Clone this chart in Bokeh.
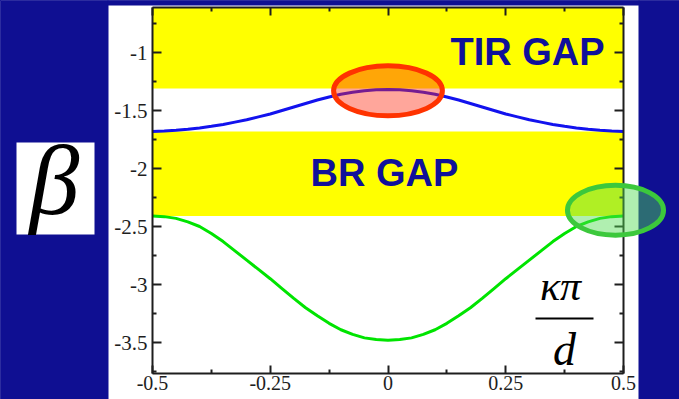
from bokeh.plotting import figure
from bokeh.models import Range1d, LinearAxis, FixedTicker, Label
from bokeh.embed import file_html
from bokeh.resources import INLINE

# ---------------- data ----------------
k = [-0.5, -0.475, -0.45, -0.425, -0.4, -0.375, -0.35, -0.325, -0.3, -0.275, -0.25,
     -0.225, -0.2, -0.175, -0.15, -0.125, -0.1, -0.075, -0.05, -0.025, 0.0,
     0.025, 0.05, 0.075, 0.1, 0.125, 0.15, 0.175, 0.2, 0.225, 0.25,
     0.275, 0.3, 0.325, 0.35, 0.375, 0.4, 0.425, 0.45, 0.475, 0.5]
beta_blue = [-1.68, -1.677, -1.67, -1.661, -1.65, -1.636, -1.62, -1.60, -1.58, -1.555, -1.53,
             -1.50, -1.47, -1.44, -1.41, -1.383, -1.36, -1.343, -1.33, -1.322, -1.32,
             -1.322, -1.33, -1.343, -1.36, -1.383, -1.41, -1.44, -1.47, -1.50, -1.53,
             -1.555, -1.58, -1.60, -1.62, -1.636, -1.65, -1.661, -1.67, -1.677, -1.68]
beta_green = [-2.41, -2.415, -2.43, -2.46, -2.50, -2.56, -2.63, -2.71, -2.79, -2.87, -2.95,
              -3.035, -3.12, -3.20, -3.27, -3.335, -3.39, -3.43, -3.46, -3.475, -3.48,
              -3.475, -3.46, -3.43, -3.39, -3.335, -3.27, -3.20, -3.12, -3.035, -2.95,
              -2.87, -2.79, -2.71, -2.63, -2.56, -2.50, -2.46, -2.43, -2.415, -2.41]

gap_names = ["TIR GAP", "BR GAP"]
gap_bottom = [-1.31, -2.41]
gap_top = [-0.50, -1.68]

x_ticks = [-0.5, -0.25, 0.0, 0.25, 0.5]
x_tick_labels = ["-0.5", "-0.25", "0", "0.25", "0.5"]
x_minor = [-0.375, -0.125, 0.125, 0.375]
y_ticks = [-1.0, -1.5, -2.0, -2.5, -3.0, -3.5]
y_tick_labels = ["-1", "-1.5", "-2", "-2.5", "-3", "-3.5"]
y_minor = [-0.75, -1.25, -1.75, -2.25, -2.75, -3.25, -3.75]

# highlighted regions (ellipses): centre and size in data units
hl_x = [0.0, 0.483]
hl_y = [-1.33, -2.36]
hl_w = [0.231, 0.204]
hl_h = [0.43, 0.43]

# ---------------- layout helpers (page pixels -> data) ----------------
W, H = 679, 399
FX0, FX1 = 152, 623          # frame left/right in px
FY0, FY1 = 7, 373            # frame top/bottom in px
def dx(px):
    return -0.5 + (px - FX0) / (FX1 - FX0)
def dy(py):
    return -1.0 - (py - 52) / 116.0

BG = "#0f0f92"
INK = "#1e1e1e"
NAVY = "#10109a"
SERIF = "Liberation Serif"
TICK_FONT = "Times New Roman"

# ================= main chart =================
p = figure(width=W, height=H, output_backend="svg", toolbar_location=None,
           x_range=Range1d(-0.5, 0.5), y_range=Range1d(dy(FY1), dy(FY0)),
           min_border_left=FX0, min_border_right=W - FX1,
           min_border_top=FY0, min_border_bottom=H - FY1)
p.border_fill_color = "white"
p.background_fill_color = "white"
p.outline_line_color = None
p.xgrid.visible = False
p.ygrid.visible = False

def style_axis(ax, ticks, minor, labels, tick_len, show_labels, size="21px", standoff=4):
    ax.ticker = FixedTicker(ticks=ticks, minor_ticks=minor)
    ax.axis_line_width = 2
    ax.axis_line_color = INK
    ax.major_tick_line_width = 2
    ax.minor_tick_line_width = 2
    ax.major_tick_line_color = INK
    ax.minor_tick_line_color = INK
    ax.major_tick_in = tick_len
    ax.major_tick_out = 0
    ax.minor_tick_in = 4
    ax.minor_tick_out = 0
    if show_labels:
        ax.major_label_overrides = dict(zip(ticks, labels))
        ax.major_label_text_font = TICK_FONT
        ax.major_label_text_font_style = "normal"
        ax.major_label_text_font_size = size
        ax.major_label_text_color = INK
        ax.major_label_standoff = standoff
    else:
        ax.major_label_overrides = {t: "" for t in ticks}
        ax.major_label_text_font_size = "1px"
        ax.major_label_text_alpha = 0
        ax.major_label_standoff = 0

style_axis(p.xaxis[0], x_ticks, x_minor, x_tick_labels, 8, True, size="20px", standoff=2)
style_axis(p.yaxis[0], y_ticks, y_minor, y_tick_labels, 9, True, size="21px", standoff=5)
top_ax = LinearAxis()
right_ax = LinearAxis()
style_axis(top_ax, x_ticks, x_minor, x_tick_labels, 8, False)
style_axis(right_ax, y_ticks, y_minor, y_tick_labels, 9, False)
p.add_layout(top_ax, "above")
p.add_layout(right_ax, "right")

# gap bands
p.quad(left=[x_ticks[0]] * len(gap_names), right=[x_ticks[-1]] * len(gap_names),
       bottom=gap_bottom, top=gap_top, fill_color="#ffff00", line_color=None)

# bands
p.line(k, beta_blue, line_color="#1212ee", line_width=3)
p.line(k, beta_green, line_color="#00e400", line_width=3)

# red highlight
p.ellipse(x=[hl_x[0]], y=[hl_y[0]], width=[hl_w[0]], height=[hl_h[0]],
          fill_color="#ff2a10", fill_alpha=0.42, line_color="#ff3300", line_width=5)

# gap labels (middle-anchored on the capitals)
p.add_layout(Label(x=dx(450), y=dy(51.5), text=gap_names[0], text_font="Liberation Sans",
                   text_font_style="bold", text_font_size="38px", text_color=NAVY,
                   text_align="left", text_baseline="middle"))
p.add_layout(Label(x=dx(310), y=dy(172.5), text=gap_names[1], text_font="Liberation Sans",
                   text_font_style="bold", text_font_size="38px", text_color=NAVY,
                   text_align="left", text_baseline="middle"))

# kappa pi / d
p.add_layout(Label(x=dx(560), y=dy(285), text="κπ", text_font=SERIF,
                   text_font_style="italic", text_font_size="42px", text_color="black",
                   text_align="center", text_baseline="middle"))
p.segment(x0=[dx(535)], y0=[dy(318)], x1=[dx(593)], y1=[dy(318)], line_color="black", line_width=2)
p.add_layout(Label(x=dx(564), y=dy(349), text="d", text_font=SERIF,
                   text_font_style="italic", text_font_size="46px", text_color="black",
                   text_align="center", text_baseline="middle"))

# ================= slide overlay (same data mapping, full canvas) =================
q = figure(width=W, height=H, output_backend="svg", toolbar_location=None,
           x_range=Range1d(dx(0), dx(W)), y_range=Range1d(dy(H), dy(0)),
           min_border_left=0, min_border_right=0, min_border_top=0, min_border_bottom=0,
           x_axis_location=None, y_axis_location=None,
           styles={"position": "absolute", "left": "0px", "top": "0px"})
q.border_fill_alpha = 0
q.background_fill_alpha = 0
q.outline_line_color = None
q.xgrid.visible = False
q.ygrid.visible = False

# blue slide background around the white picture
q.quad(left=[dx(-5), dx(638), dx(107)], right=[dx(108), dx(W + 5), dx(639)],
       top=[dy(-5), dy(-5), dy(-5)], bottom=[dy(H + 5), dy(H + 5), dy(5)],
       fill_color=BG, line_color=None)

# beta symbol box
q.quad(left=[dx(16)], right=[dx(94)], top=[dy(142)], bottom=[dy(234)],
       fill_color="white", line_color=None)
q.add_layout(Label(x=dx(54), y=dy(180), text="β", text_font=SERIF,
                   text_font_style="italic", text_font_size="100px", text_color="black",
                   text_align="center", text_baseline="middle"))

# green highlight (crosses the frame edge)
q.ellipse(x=[hl_x[1]], y=[hl_y[1]], width=[hl_w[1]], height=[hl_h[1]],
          fill_color="#50dc50", fill_alpha=0.45, line_color="#3cc83c", line_width=5)

html = file_html([p, q], INLINE, title="bands")
html = html.replace("<head>", "<head><style>html,body{margin:0;padding:0;overflow:hidden;background:%s;}</style>" % BG, 1)
open("out.html", "w").write(html)
